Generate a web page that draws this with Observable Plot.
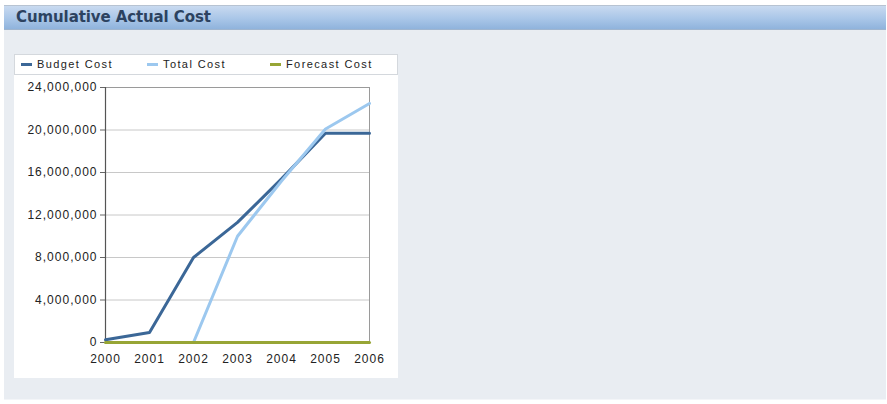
<!DOCTYPE html>
<html>
<head>
<meta charset="utf-8">
<script src="https://cdn.jsdelivr.net/npm/d3@7"></script>
<script src="https://cdn.jsdelivr.net/npm/@observablehq/plot@0.6"></script>
<style>
  html, body { margin: 0; padding: 0; background: #ffffff; }
  body { width: 887px; height: 404px; position: relative; overflow: hidden; font-family: "Liberation Sans", Arial, sans-serif; }
  #panel { position: absolute; left: 4px; top: 5px; width: 882px; height: 394px; background: #e9edf2; border-bottom: 1px solid #f3f5f8; }
  #header { position: absolute; left: 0; top: 0; width: 882px; height: 23px; border-top: 1px solid #b7c3d2;
            background: linear-gradient(#c9daf0, #a9c6e8 55%, #8fb3dc); border-bottom: 1px solid #9fb5cf; }
  #title { position: absolute; left: 12px; top: 2px; font-family: "DejaVu Sans", Verdana, sans-serif; font-weight: bold; font-size: 15px; color: #2c4260; letter-spacing: -0.1px; }
  #card { position: absolute; left: 14px; top: 54px; width: 384px; height: 324px; background: #ffffff; }
  #legend { position: absolute; left: 0; top: 0; width: 382px; height: 19px; border: 1px solid #d4d8dd; background: #fff; font-size: 11px; color: #222; letter-spacing: 1.4px; }
  .item { position: absolute; top: 3px; white-space: nowrap; }
  .sw { display: inline-block; width: 11px; height: 3px; vertical-align: middle; margin-right: 5px; position: relative; top: -1px; }
  #chart { position: absolute; left: 0; top: 20px; }
  #chart svg text { letter-spacing: 1px; }
</style>
</head>
<body>
<div id="panel">
  <div id="header"><div id="title">Cumulative Actual Cost</div></div>
</div>
<div id="card">
  <div id="legend"></div>
  <div id="chart"></div>
</div>
<script>
const years = [2000, 2001, 2002, 2003, 2004, 2005, 2006];
const budgetCost = [250000, 950000, 8000000, 11300000, 15400000, 19700000, 19700000];
const totalCost = [0, 0, 0, 10000000, 15200000, 20100000, 22500000];
const forecastCost = [0, 0, 0, 0, 0, 0, 0];
const seriesNames = ["Budget Cost", "Total Cost", "Forecast Cost"];
const seriesColors = ["#3b6797", "#9cc8ef", "#97a535"];
const yTicks = [0, 4000000, 8000000, 12000000, 16000000, 20000000, 24000000];

// Total Cost line is drawn from 2002 onward (its zero stretch before that sits under Forecast)
const totalStart = 2002;

const budgetData = years.map((y, i) => ({year: y, value: budgetCost[i]}));
const totalData = years.map((y, i) => ({year: y, value: totalCost[i]})).filter(d => d.year >= totalStart);
const forecastData = years.map((y, i) => ({year: y, value: forecastCost[i]}));

// legend
const legend = document.getElementById("legend");
const legendX = [6, 132, 255];
seriesNames.forEach((name, i) => {
  const el = document.createElement("div");
  el.className = "item";
  el.style.left = legendX[i] + "px";
  el.innerHTML = `<span class="sw" style="background:${seriesColors[i]}"></span>${name}`;
  legend.appendChild(el);
});

const fmt = d3.format(",");
const chart = Plot.plot({
  width: 384,
  height: 304,
  marginLeft: 91,
  marginRight: 29,
  marginTop: 13,
  marginBottom: 36,
  style: {fontFamily: "'Liberation Sans', Arial, sans-serif", fontSize: "12px", color: "#222", background: "transparent"},
  x: {domain: [2000, 2006], ticks: years, tickFormat: "d", tickSize: 0, tickPadding: 12, label: null},
  y: {domain: [0, 24000000], ticks: yTicks, tickFormat: fmt, tickSize: 5, tickPadding: 3, label: null},
  marks: [
    Plot.gridY(yTicks, {stroke: "#c8c8c8", strokeOpacity: 1}),
    Plot.frame({stroke: "#9a9a9a"}),
    Plot.axisY({ticks: yTicks, tickFormat: fmt, tickSize: 5, tickPadding: 3, stroke: "#666", fontSize: 12, fill: "#222"}),
    Plot.axisX({ticks: years, tickFormat: "d", tickSize: 0, tickPadding: 12, fontSize: 12, fill: "#222"}),
    Plot.ruleX([2000], {stroke: "#555", strokeWidth: 1.2}),
    Plot.line(budgetData, {x: "year", y: "value", stroke: seriesColors[0], strokeWidth: 3}),
    Plot.line(totalData, {x: "year", y: "value", stroke: seriesColors[1], strokeWidth: 3}),
    Plot.line(forecastData, {x: "year", y: "value", stroke: seriesColors[2], strokeWidth: 3})
  ]
});
document.getElementById("chart").appendChild(chart);
</script>
</body>
</html>
